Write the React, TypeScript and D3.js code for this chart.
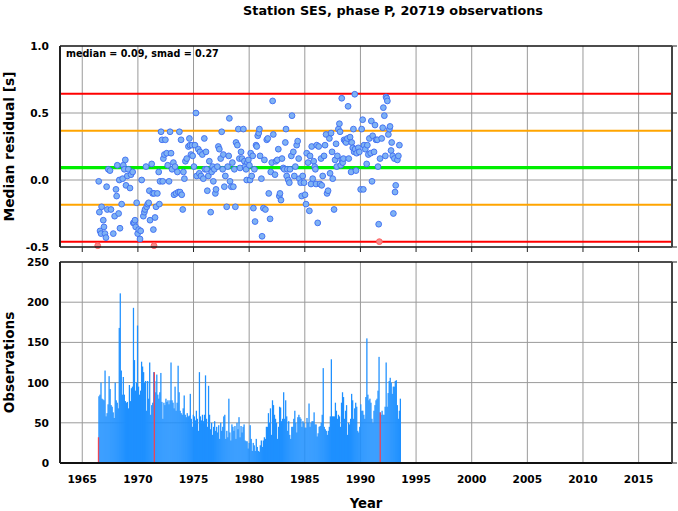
import React from 'react';
import * as d3 from 'd3';

const W = 678;
const H = 511;

const titleText = 'Station SES, phase P, 20719 observations';
const statsText = 'median = 0.09, smad = 0.27';
const median = 0.092;
const smad = 0.276;

const yearTicks = [1965, 1970, 1975, 1980, 1985, 1990, 1995, 2000, 2005, 2010, 2015];
const resTicks = [-0.5, 0.0, 0.5, 1.0];
const resTickLabels = ['-0.5', '0.0', '0.5', '1.0'];
const obsTicks = [0, 50, 100, 150, 200, 250];

const resYears = [
  1966.48, 1966.54, 1966.74, 1966.60, 1966.69, 1966.89, 1966.95, 1967.04, 1967.13, 1967.19,
  1967.25, 1967.34, 1967.49, 1967.58, 1967.79, 1967.91, 1968.03, 1968.09, 1968.15, 1968.27,
  1968.33, 1968.39, 1968.54, 1968.63, 1968.69, 1968.78, 1968.87, 1968.93, 1969.05, 1969.14,
  1969.29, 1969.38, 1969.53, 1969.59, 1969.68, 1969.74, 1969.80, 1969.89, 1969.98, 1970.07,
  1970.19, 1970.25, 1970.34, 1970.49, 1970.58, 1970.64, 1970.73, 1970.79, 1970.88, 1970.97,
  1971.03, 1971.09, 1971.24, 1971.33, 1971.39, 1971.45, 1971.54, 1971.63, 1971.75, 1971.87,
  1971.93, 1971.99, 1972.08, 1972.17, 1972.23, 1972.29, 1972.38, 1972.47, 1972.59, 1972.68,
  1972.80, 1972.89, 1972.98, 1973.07, 1973.19, 1973.25, 1973.34, 1973.43, 1973.55, 1973.64,
  1973.73, 1973.79, 1973.88, 1973.94, 1974.03, 1974.09, 1974.18, 1974.27, 1974.39, 1974.54,
  1974.63, 1974.68, 1974.77, 1974.86, 1974.92, 1975.04, 1975.13, 1975.22, 1975.28, 1975.43,
  1975.52, 1975.58, 1975.67, 1975.79, 1975.88, 1975.97, 1976.03, 1976.12, 1976.18, 1976.24,
  1976.33, 1976.42, 1976.54, 1976.63, 1976.72, 1976.78, 1976.87, 1976.96, 1977.02, 1977.14,
  1977.23, 1977.32, 1977.44, 1977.53, 1977.62, 1977.68, 1977.77, 1977.86, 1977.98, 1978.07,
  1978.16, 1978.22, 1978.28, 1978.40, 1978.49, 1978.58, 1978.67, 1978.76, 1978.82, 1978.94,
  1979.03, 1979.12, 1979.18, 1979.27, 1979.36, 1979.48, 1979.57, 1979.63, 1979.72, 1979.78,
  1979.84, 1979.93, 1980.02, 1980.08, 1980.14, 1980.23, 1980.32, 1980.38, 1980.47, 1980.53,
  1980.62, 1980.68, 1980.77, 1980.86, 1980.92, 1980.98, 1981.10, 1981.16, 1981.28, 1981.37,
  1981.46, 1981.58, 1981.67, 1981.76, 1981.88, 1981.94, 1982.03, 1982.11, 1982.17, 1982.32,
  1982.41, 1982.53, 1982.62, 1982.71, 1982.77, 1982.86, 1982.95, 1983.07, 1983.16, 1983.25,
  1983.31, 1983.37, 1983.43, 1983.52, 1983.61, 1983.67, 1983.79, 1983.85, 1983.97, 1984.06,
  1984.15, 1984.27, 1984.36, 1984.45, 1984.51, 1984.63, 1984.72, 1984.81, 1984.93, 1985.02,
  1985.11, 1985.17, 1985.29, 1985.41, 1985.47, 1985.56, 1985.62, 1985.71, 1985.80, 1985.89,
  1985.95, 1986.01, 1986.07, 1986.16, 1986.25, 1986.37, 1986.46, 1986.52, 1986.61, 1986.73,
  1986.82, 1986.91, 1987.00, 1987.09, 1987.21, 1987.27, 1987.36, 1987.45, 1987.51, 1987.63,
  1987.72, 1987.81, 1987.87, 1987.93, 1988.02, 1988.11, 1988.17,
  1988.23, 1988.32, 1988.32, 1988.41, 1988.47, 1988.53, 1988.62, 1988.71, 1988.83, 1988.89,
  1988.95, 1989.07, 1989.16, 1989.22, 1989.31, 1989.37, 1989.43, 1989.49, 1989.52, 1989.60,
  1989.66, 1989.81, 1989.90, 1990.02, 1990.11, 1990.20, 1990.26, 1990.32, 1990.44, 1990.56,
  1990.62, 1990.71, 1990.80, 1990.92, 1990.98, 1991.04, 1991.10, 1991.22, 1991.31, 1991.40,
  1991.52, 1991.58, 1991.64, 1991.76, 1991.91, 1992.00, 1992.06, 1992.15, 1992.24, 1992.30,
  1992.36, 1992.42, 1992.51, 1992.60, 1992.66, 1992.75, 1992.81, 1992.90, 1992.96, 1993.05,
  1993.11, 1993.17, 1993.32, 1993.41, 1993.50,
];

const resValues = [
  -0.01, -0.24, -0.20, -0.38, -0.40, -0.30, -0.35, -0.40, -0.43, -0.05,
  -0.22, 0.08, 0.07, -0.22, -0.40, -0.27, -0.07, -0.12, 0.11, -0.25,
  0.00, -0.36, -0.18, 0.01, 0.11, 0.08, 0.15, -0.04, 0.03, 0.08,
  -0.06, 0.04, 0.06, -0.32, -0.32, -0.30, -0.35, -0.17, -0.40, -0.37,
  -0.44, -0.38, 0.00, -0.27, -0.24, -0.22, 0.10, -0.20, -0.18, -0.17,
  -0.08, -0.30, 0.12, -0.10, -0.37, -0.10, -0.28, -0.20, -0.10, 0.06,
  -0.18, -0.01, 0.36, 0.30, -0.01, 0.16, 0.19, 0.30, 0.20, 0.11,
  -0.01, 0.36, 0.20, 0.08, 0.13, -0.11, 0.10, -0.10, 0.06, -0.09,
  0.36, -0.09, 0.30, -0.11, -0.22, 0.06, 0.01, 0.14, 0.16, 0.25,
  0.31, 0.26, 0.19, 0.26, 0.18, 0.10, 0.26, 0.50, 0.03, 0.23,
  0.05, 0.21, 0.03, 0.19, 0.01, 0.31, 0.08, 0.21, 0.08, -0.08,
  0.03, 0.14, -0.24, 0.06, 0.10, -0.01, 0.08, -0.10, -0.07, 0.10,
  0.25, 0.23, 0.16, 0.36, 0.08, 0.19, -0.05, 0.03, -0.20, 0.10,
  0.18, 0.46, -0.01, -0.05, 0.13, -0.05, 0.08, -0.20, 0.28, 0.26,
  0.38, 0.16, 0.09, 0.21, 0.16, 0.38, 0.14, 0.10, 0.08, 0.00,
  0.13, 0.15, 0.11, 0.00, 0.20, 0.03, 0.18, -0.21, 0.08, -0.31,
  0.26, 0.25, 0.33, 0.35, 0.38, 0.18, 0.01, -0.42, -0.21, 0.15,
  -0.22, 0.30, 0.31, -0.10, -0.29, 0.06, 0.13, 0.59, 0.34, 0.04,
  0.14, 0.15, 0.23, -0.12, -0.10, -0.15, 0.16, 0.09, 0.08, 0.28,
  0.38, 0.03, 0.08, 0.00, -0.02, 0.08, 0.18, 0.48, 0.21, 0.03,
  0.10, 0.26, 0.29, 0.16, 0.01, -0.02, -0.12, 0.03, -0.02, -0.11,
  -0.18, 0.20, 0.13, -0.23, 0.18, -0.03, 0.25, 0.01, 0.14, 0.10,
  0.08, -0.03, 0.26, -0.32, 0.25, -0.03, 0.16, -0.04, 0.03, 0.18,
  0.26, 0.34, -0.10, -0.08, 0.31, 0.05, 0.35, 0.21, 0.01, -0.22,
  0.15, 0.27, 0.10, 0.18, 0.38, 0.42, 0.36,
  0.11, 0.61, 0.15, 0.13, 0.16, 0.30, 0.29, 0.28, 0.31, 0.55,
  0.16, 0.32, 0.06, 0.28, 0.24, 0.38, 0.21, 0.64, 0.23, 0.07,
  0.20, 0.24, 0.21, -0.07, 0.38, 0.45, -0.07, 0.26, 0.23, 0.12,
  0.26, 0.19, 0.31, 0.20, 0.44, -0.01, 0.33, 0.21, 0.41, 0.30,
  0.30, 0.10, -0.33, 0.16, 0.31, 0.39, 0.54, 0.48, 0.18, 0.62,
  0.61, 0.59, 0.34, 0.38, 0.40, 0.22, 0.28, 0.18, -0.25, 0.16,
  -0.09, -0.04, 0.15, 0.18, 0.26,
];

const outlierYears = [1966.39, 1971.45, 1991.70];
const outlierValues = [-0.49, -0.49, -0.46];

const obsStart = 1966.445;
const obsStep = 0.0912;
const obsCounts = [
  83, 85, 100, 80, 79, 78, 115, 58, 62, 73,
  108, 92, 72, 70, 63, 56, 100, 78, 75, 68,
  168, 211, 115, 85, 107, 85, 77, 75, 76, 68,
  97, 77, 93, 95, 193, 128, 90, 100, 171, 95,
  85, 90, 126, 120, 113, 100, 102, 65, 102, 80,
  125, 60, 72, 75, 113, 102, 88, 110, 85, 80,
  88, 112, 76, 55, 75, 72, 80, 76, 78, 73,
  78, 125, 78, 75, 68, 95, 65, 75, 121, 88,
  65, 62, 60, 68, 84, 60, 57, 62, 58, 59,
  86, 55, 45, 60, 58, 53, 65, 55, 40, 113,
  58, 53, 60, 52, 60, 109, 55, 45, 96, 60,
  42, 50, 35, 45, 52, 40, 45, 38, 47, 30,
  50, 40, 45, 58, 60, 30, 40, 32, 80, 38,
  28, 48, 45, 40, 46, 30, 50, 42, 57, 32,
  46, 38, 45, 48, 28, 27, 27, 18, 25, 47,
  30, 15, 25, 22, 15, 30, 20, 15, 14, 22,
  28, 20, 28, 32, 30, 45, 45, 62, 50, 68,
  35, 78, 72, 60, 55, 50, 30, 45, 70, 69,
  52, 55, 88, 55, 78, 58, 40, 52, 35, 30,
  45, 45, 55, 65, 50, 38, 57, 60, 57, 55,
  45, 52, 50, 44, 44, 56, 50, 74, 45, 50,
  52, 52, 63, 48, 48, 33, 37, 45, 46, 50,
  60, 118, 45, 42, 40, 35, 40, 45, 58, 129,
  58, 58, 58, 75, 65, 55, 60, 58, 45,
  75, 88, 82, 55, 65, 72, 35, 50, 48, 55,
  86, 78, 55, 68, 75, 70, 40, 38, 45, 73,
  65, 65, 60, 55, 82, 155, 85, 78, 80, 75,
  55, 50, 65, 72, 78, 80, 90, 132, 63, 60,
  65, 60, 60, 70, 125, 70, 87, 102, 106, 100,
  86, 95, 95, 102, 103, 72, 55, 65, 80,
];

const flaggedYears = [1966.40, 1971.42, 1991.72];
const flaggedCounts = [32, 113, 63];

const FONT = '"DejaVu Sans", Verdana, sans-serif';

export default function App() {
  const left = 60;
  const right = 672;
  const topY0 = 46;
  const topY1 = 247;
  const botY0 = 262;
  const botY1 = 463;

  const x = d3.scaleLinear().domain([1963, 2018]).range([left, right]);
  const yR = d3.scaleLinear().domain([-0.5, 1.0]).range([topY1, topY0]);
  const yO = d3.scaleLinear().domain([0, 250]).range([botY1, botY0]);

  const refLines = [
    { v: median + 2 * smad, c: '#ff0000', w: 2 },
    { v: median - 2 * smad, c: '#ff0000', w: 2 },
    { v: median + smad, c: '#ffa500', w: 2 },
    { v: median - smad, c: '#ffa500', w: 2 },
    { v: median, c: '#00ee00', w: 3.2 },
  ];

  const gridColor = '#9a9a9a';

  return (
    <svg width={W} height={H} style={{ position: 'absolute', left: 0, top: 0, background: '#fff' }}>
      <rect x={0} y={0} width={W} height={H} fill="#fff" />
      <text x={393} y={15} textAnchor="middle" fontFamily={FONT} fontWeight="bold" fontSize={12.8}>
        {titleText}
      </text>

      {/* ---------- Top panel ---------- */}
      {yearTicks.map((t) => (
        <line key={'tg' + t} x1={x(t)} x2={x(t)} y1={topY0} y2={topY1} stroke={gridColor} strokeWidth={1} />
      ))}
      {[0.5, 0.0].map((v) => (
        <line key={'th' + v} x1={left} x2={right} y1={yR(v)} y2={yR(v)} stroke={gridColor} strokeWidth={1} />
      ))}
      {refLines.map((r, i) => (
        <line key={'rl' + i} x1={left} x2={right} y1={yR(r.v)} y2={yR(r.v)} stroke={r.c} strokeWidth={r.w} />
      ))}
      {resYears.map((t, i) => (
        <circle key={'p' + i} cx={x(t)} cy={yR(resValues[i])} r={2.9} fill="#7eb2f4" stroke="#3d6cf2" strokeWidth={0.9} />
      ))}
      {outlierYears.map((t, i) => (
        <circle key={'o' + i} cx={x(t)} cy={yR(outlierValues[i])} r={2.9} fill="#f58a8a" stroke="#ff5a5a" strokeWidth={0.9} />
      ))}
      {/* borders */}
      <line x1={left} x2={right} y1={topY0} y2={topY0} stroke="#111" strokeWidth={1.5} />
      <line x1={left} x2={right} y1={topY1} y2={topY1} stroke="#111" strokeWidth={1.5} />
      <line x1={left} x2={left} y1={topY0} y2={topY1} stroke="#222" strokeWidth={2} />
      <line x1={right} x2={right} y1={topY0} y2={topY1} stroke="#444" strokeWidth={2} />
      {yearTicks.map((t) => (
        <line key={'tt' + t} x1={x(t)} x2={x(t)} y1={topY1} y2={topY1 + 5} stroke="#222" strokeWidth={1} />
      ))}
      {resTicks.map((v) => (
        <line key={'rt' + v} x1={right} x2={right + 5} y1={yR(v)} y2={yR(v)} stroke="#222" strokeWidth={1} />
      ))}
      {resTicks.map((v, i) => (
        <text key={'rtl' + v} x={49} y={yR(v) + 3.9} textAnchor="end" fontFamily={FONT} fontWeight="bold" fontSize={10.6}>
          {resTickLabels[i]}
        </text>
      ))}
      <text x={66} y={57} fontFamily={FONT} fontWeight="bold" fontSize={9.6}>
        {statsText}
      </text>
      <text
        transform={`translate(14,${(topY0 + topY1) / 2}) rotate(-90)`}
        textAnchor="middle"
        fontFamily={FONT}
        fontWeight="bold"
        fontSize={13.8}
      >
        Median residual [s]
      </text>

      {/* ---------- Bottom panel ---------- */}
      {yearTicks.map((t) => (
        <line key={'bg' + t} x1={x(t)} x2={x(t)} y1={botY0} y2={botY1} stroke={gridColor} strokeWidth={1} />
      ))}
      {[50, 100, 150, 200].map((v) => (
        <line key={'bh' + v} x1={left} x2={right} y1={yO(v)} y2={yO(v)} stroke={gridColor} strokeWidth={1} />
      ))}
      {obsCounts.map((c, i) => {
        const t = obsStart + i * obsStep;
        const x0 = x(t);
        const x1 = x(t + obsStep);
        return <rect key={'b' + i} x={x0} y={yO(c)} width={x1 - x0 + 0.25} height={yO(0) - yO(c)} fill="#1e90ff" />;
      })}
      {flaggedYears.map((t, i) => {
        const x0 = x(t);
        const x1 = x(t + obsStep);
        return (
          <rect key={'fb' + i} x={x0} y={yO(flaggedCounts[i])} width={x1 - x0 + 0.3} height={yO(0) - yO(flaggedCounts[i])} fill="#e8465a" />
        );
      })}
      <line x1={left} x2={right} y1={botY0} y2={botY0} stroke="#111" strokeWidth={1.5} />
      <line x1={left} x2={right} y1={botY1} y2={botY1} stroke="#111" strokeWidth={1.8} />
      <line x1={left} x2={left} y1={botY0} y2={botY1} stroke="#222" strokeWidth={2} />
      <line x1={right} x2={right} y1={botY0} y2={botY1} stroke="#444" strokeWidth={2} />
      {obsTicks.map((v) => (
        <line key={'ot' + v} x1={right} x2={right + 5} y1={yO(v)} y2={yO(v)} stroke="#222" strokeWidth={1} />
      ))}
      {obsTicks.map((v) => (
        <text key={'otl' + v} x={49} y={yO(v) + 3.9} textAnchor="end" fontFamily={FONT} fontWeight="bold" fontSize={10.6}>
          {v}
        </text>
      ))}
      {yearTicks.map((t) => (
        <text key={'yl' + t} x={x(t)} y={483} textAnchor="middle" fontFamily={FONT} fontWeight="bold" fontSize={10.6}>
          {t}
        </text>
      ))}
      <text
        transform={`translate(14,${(botY0 + botY1) / 2}) rotate(-90)`}
        textAnchor="middle"
        fontFamily={FONT}
        fontWeight="bold"
        fontSize={13.6}
      >
        Observations
      </text>
      <text x={366} y={508} textAnchor="middle" fontFamily={FONT} fontWeight="bold" fontSize={13.2}>
        Year
      </text>
    </svg>
  );
}
